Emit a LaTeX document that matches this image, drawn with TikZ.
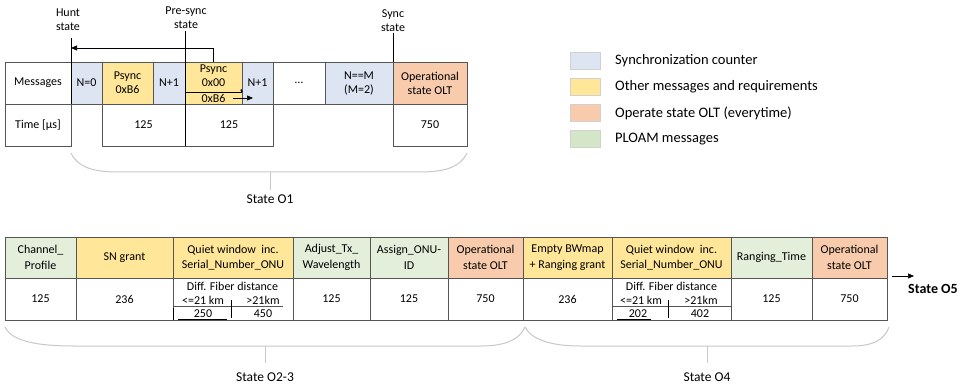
\documentclass[tikz,border=0pt]{standalone}
\usepackage{fontspec}
\setmainfont{Carlito}
\usetikzlibrary{arrows.meta}

\definecolor{syncblue}{HTML}{DEE5F2}
\definecolor{msgyellow}{HTML}{FFE699}
\definecolor{oltorange}{HTML}{F8CBAD}
\definecolor{ploamgreen}{HTML}{E3EFDA}
\definecolor{leggreen}{HTML}{D3E6C7}
\definecolor{cellline}{HTML}{555555}
\definecolor{bracegray}{HTML}{C8C8C8}

% table cell given by its left, right, top and bottom edges
\newcommand\mkcell[7]{%
  \node[#6, minimum width={#3pt-#2pt}, minimum height={#5pt-#4pt}]
    (#1) at ({(#2+#3)/2},{(#4+#5)/2}) {#7};}

\tikzset{
  cellbase/.style={draw=cellline, line width=0.6pt, inner sep=0pt, align=center},
  topcell/.style={cellbase, font=\fontsize{12}{14}\selectfont},
  botcell/.style={cellbase, font=\fontsize{12}{15.5}\selectfont},
  plain/.style={fill=white},
  sync/.style={fill=syncblue},
  other/.style={fill=msgyellow},
  olt/.style={fill=oltorange},
  ploam/.style={fill=ploamgreen},
  celltext/.style={inner sep=0pt, align=center, font=\fontsize{12}{14}\selectfont},
  statelabel/.style={inner sep=0pt, align=center, font=\fontsize{12}{14}\selectfont},
  legswatch/.style={draw=black!18, line width=0.5pt, minimum width=30pt, minimum height=17pt, inner sep=0pt},
  legtext/.style={anchor=west, inner sep=0pt, font=\fontsize{14.5}{16}\selectfont},
  brace/.style={draw=bracegray, line width=1pt},
  bracelabel/.style={inner sep=0pt, font=\fontsize{13.5}{15}\selectfont},
  marker/.style={draw=black, line width=0.6pt},
  arrowtip/.style={-{Triangle[length=6pt,width=5pt]}},
  heavy/.style={draw=black, line width=1.6pt}
}

\begin{document}
\begin{tikzpicture}[x=1pt, y=-1pt]
\useasboundingbox (0,0) rectangle (964,385);
\fill[white] (0,0) rectangle (964,385);

% ---------- synchronisation sequence (state O1) ----------
\mkcell{msg}{5}{71}{62}{104}{topcell,plain}{Messages}
\mkcell{nzero}{71}{102}{62}{104}{topcell,sync}{N=0}
\mkcell{psa}{102}{153}{62}{104}{topcell,other}{Psync\\0xB6}
\mkcell{npa}{153}{185}{62}{104}{topcell,sync}{N+1}
\mkcell{psb}{185}{242}{62}{104}{topcell,other}{}
\mkcell{npb}{242}{273}{62}{104}{topcell,sync}{N+1}
\mkcell{dots}{273}{325}{62}{104}{topcell,plain}{…}
\mkcell{nm}{325}{393}{62}{104}{topcell,sync}{N==M\\(M=2)}
\mkcell{opa}{393}{467}{62}{104}{topcell,olt}{Operational\\state OLT}

\mkcell{tlab}{5}{71}{104}{146}{topcell,plain}{Time [µs]}
\mkcell{ta}{102}{185}{104}{146}{topcell,plain}{125}
\mkcell{tb}{185}{273}{104}{146}{topcell,plain}{125}
\mkcell{tc}{393}{467}{104}{146}{topcell,plain}{750}

% split Psync cell
\node[celltext] (psbtop) at (213.5,76) {Psync\\0x00};
\coordinate (splitL) at (185,92);
\coordinate (splitR) at (242,92);
\draw[marker] (splitL) -- (splitR);
\draw[black, line width=1.4pt] (241,89.5) -- (splitR);
\node[celltext] (psbbot) at (213.5,98.5) {0xB6};
\coordinate (nextA) at (233,98);
\coordinate (nextB) at (253,98);
\draw[marker, arrowtip] (nextA) -- (nextB);

% state markers
\node[statelabel] (hunt) at (68,20) {Hunt\\state};
\node[statelabel] (presync) at (186,17.5) {Pre-sync\\state};
\node[statelabel] (syncst) at (393,20.5) {Sync\\state};
\coordinate (huntTop) at (71,38);
\coordinate (huntBot) at (71,104);
\coordinate (preTop) at (185,31);
\coordinate (preBot) at (185,146);
\coordinate (syncTop) at (393,33);
\coordinate (syncBot) at (393,62);
\draw[marker] (huntTop) -- (huntBot);
\draw[marker] (preTop) -- (preBot);
\draw[marker] (syncTop) -- (syncBot);
\coordinate (huntHit) at (71,48);
\draw[marker, arrowtip] (psb.north) |- (huntHit);

% brace for state O1
\draw[brace] (71,153) .. controls (78,168) and (95,172) .. (118,172)
  -- (420,172) .. controls (443,172) and (460,168) .. (467,153);
\coordinate (oneTick) at (270,172);
\node[bracelabel] (stateone) at (270,199) {State O1};
\draw[brace] (oneTick) -- ++(0,18);

% ---------- legend ----------
\node[legswatch, fill=syncblue] (lga) at (585,61) {};
\node[legswatch, fill=msgyellow] (lgb) at (585,87) {};
\node[legswatch, fill=oltorange] (lgc) at (585,113) {};
\node[legswatch, fill=leggreen] (lgd) at (585,139) {};
\node[legtext] (lta) at (615,61) {Synchronization counter};
\node[legtext] (ltb) at (615,87) {Other messages and requirements};
\node[legtext] (ltc) at (615,113) {Operate state OLT (everytime)};
\node[legtext] (ltd) at (615,139) {PLOAM messages};

% ---------- ranging sequence (states O2-3 and O4) ----------
\mkcell{chp}{5}{76}{237}{278}{botcell,ploam}{Channel\_\\Profile}
\mkcell{sng}{76}{173}{237}{278}{botcell,other}{SN grant}
\mkcell{qwa}{173}{293}{237}{278}{botcell,other}{Quiet window~ inc.\\Serial\_Number\_ONU}
\mkcell{atw}{293}{370}{237}{278}{botcell,ploam}{Adjust\_Tx\_\\Wavelength}
\mkcell{aoi}{370}{448}{237}{278}{botcell,ploam}{Assign\_ONU-\\ID}
\mkcell{opb}{448}{523}{237}{278}{botcell,olt}{Operational\\state OLT}
\mkcell{ebw}{523}{612}{237}{278}{botcell,other}{Empty BWmap\\+ Ranging grant}
\mkcell{qwb}{612}{731}{237}{278}{botcell,other}{Quiet window~ inc.\\Serial\_Number\_ONU}
\mkcell{rgt}{731}{812}{237}{278}{botcell,ploam}{Ranging\_Time}
\mkcell{opc}{812}{887}{237}{278}{botcell,olt}{Operational\\state OLT}

\mkcell{va}{5}{76}{278}{320}{botcell,plain}{125}
\mkcell{vb}{76}{173}{278}{320}{botcell,plain}{236}
\mkcell{vc}{173}{293}{278}{320}{botcell,plain}{}
\mkcell{vd}{293}{370}{278}{320}{botcell,plain}{125}
\mkcell{ve}{370}{448}{278}{320}{botcell,plain}{125}
\mkcell{vf}{448}{523}{278}{320}{botcell,plain}{750}
\mkcell{vg}{523}{612}{278}{320}{botcell,plain}{236}
\mkcell{vh}{612}{731}{278}{320}{botcell,plain}{}
\mkcell{vi}{731}{812}{278}{320}{botcell,plain}{125}
\mkcell{vj}{812}{887}{278}{320}{botcell,plain}{750}

% fiber distance split, first quiet window
\node[celltext] (dfa) at (232.5,286) {Diff. Fiber distance};
\node[celltext] (dfan) at (203,300) {<=21 km};
\node[celltext] (dfaf) at (263,300) {>21km};
\node[celltext] (dfanv) at (203,314) {250};
\node[celltext] (dfafv) at (263,314) {450};
\coordinate (sa1) at (173,306.5);
\coordinate (sa2) at (283,306.5);
\coordinate (sa3) at (231,300);
\coordinate (sa4) at (231,318);
\draw[marker, draw=cellline] (sa1) -- (sa2);
\draw[marker] (sa3) -- (sa4);
\draw[heavy] (178,319.5) -- (227,319.5);
\draw[black, line width=1.2pt] (173.5,308) -- (173.5,320);

% fiber distance split, second quiet window
\node[celltext] (dfb) at (671.5,286) {Diff. Fiber distance};
\node[celltext] (dfbn) at (641,300) {<=21 km};
\node[celltext] (dfbf) at (701,300) {>21km};
\node[celltext] (dfbnv) at (638,314) {202};
\node[celltext] (dfbfv) at (700,314) {402};
\coordinate (sb1) at (612,306.5);
\coordinate (sb2) at (731,306.5);
\coordinate (sb3) at (668,300);
\coordinate (sb4) at (668,318);
\draw[marker, draw=cellline] (sb1) -- (sb2);
\draw[marker] (sb3) -- (sb4);
\draw[heavy] (617,319.5) -- (651,319.5);

% exit to state O5
\coordinate (exitA) at (892,276);
\coordinate (exitB) at (914,276);
\draw[marker, arrowtip] (exitA) -- (exitB);
\node[inner sep=0pt, font=\fontsize{14}{16}\selectfont\bfseries] (ofive) at (933,289) {State O5};

% braces for states O2-3 and O4
\draw[brace] (5,327) .. controls (12,342) and (40,346) .. (74,346)
  -- (481,346) .. controls (506,346) and (520,339) .. (525,327);
\draw[brace] (525,327) .. controls (531,339) and (550,346) .. (580,346)
  -- (852,346) .. controls (874,346) and (885,339) .. (889,327);
\coordinate (twoTick) at (265,346);
\coordinate (fourTick) at (707,346);
\draw[brace] (twoTick) -- ++(0,17);
\draw[brace] (fourTick) -- ++(0,17);
\node[bracelabel] (statetwo) at (265,377) {State O2-3};
\node[bracelabel] (statefour) at (707,377) {State O4};
\end{tikzpicture}
\end{document}
